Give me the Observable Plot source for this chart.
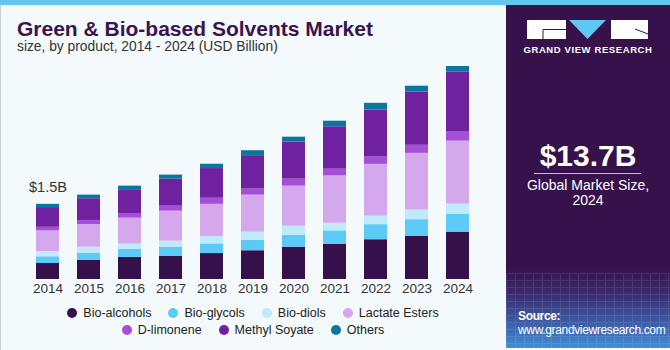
<!DOCTYPE html>
<html><head><meta charset="utf-8">
<script src="https://cdn.jsdelivr.net/npm/d3@7"></script>
<script src="https://cdn.jsdelivr.net/npm/@observablehq/plot@0.6"></script>
<style>
body{margin:0;background:#fff;}
#wrap{position:relative;width:670px;height:350px;overflow:hidden;background:#f4f9fc;font-family:"Liberation Sans",Arial,sans-serif;}
#topbar{position:absolute;left:0;top:0;width:670px;height:5px;background:#62c6ee;}
#leftedge{position:absolute;left:0;top:5px;width:1px;height:345px;background:#c9ccd0;}
#title{position:absolute;left:17px;top:18px;font-size:21px;line-height:1;font-weight:bold;color:#3a1450;white-space:nowrap;}
#subtitle{position:absolute;left:17px;top:40px;font-size:13.8px;line-height:1;color:#333;white-space:nowrap;}
#chart{position:absolute;left:0;top:0;}
#legend{position:absolute;left:0;top:304px;width:506px;font-size:12.5px;color:#222;}
.lrow{display:flex;justify-content:center;height:17px;align-items:center;}
.litem{display:flex;align-items:center;margin:0 8.5px;}
.ldot{width:10px;height:10px;border-radius:50%;margin-right:6px;}
#panel{position:absolute;left:506px;top:5px;width:164px;height:343px;color:#fff;
 background:linear-gradient(to bottom,#36114a 0%,#36114a 76%,#3b2a6e 84%,#3d5ea8 93%,#3f8fd4 100%);}
#grid{position:absolute;left:0;top:268px;width:164px;height:75px;opacity:0.09;
 background-image:linear-gradient(#fff 1px,transparent 1px),linear-gradient(90deg,#fff 1px,transparent 1px);background-size:9px 7px;}
#gvr{position:absolute;left:0;top:0;}
#gvrtext{position:absolute;left:0;width:164px;text-align:center;top:40px;font-size:9.5px;line-height:1;font-weight:bold;letter-spacing:0.6px;}
#big{position:absolute;left:0;width:164px;text-align:center;top:136px;font-size:30px;line-height:1;font-weight:bold;}
#rule{position:absolute;left:28px;top:168px;width:107px;height:1px;background:#c9bcd3;}
#cap{position:absolute;left:0;width:164px;text-align:center;top:173px;font-size:14px;line-height:15px;}
#src{position:absolute;left:12px;top:304px;font-size:12px;line-height:14px;letter-spacing:-0.35px;white-space:nowrap;}
</style></head><body>
<div id="wrap">
 <div id="topbar"></div>
 <div id="leftedge"></div>
 <div id="title">Green &amp; Bio-based Solvents Market</div>
 <div id="subtitle">size, by product, 2014 - 2024 (USD Billion)</div>
 <div id="chart"></div>
 <div id="legend"></div>
 <div id="panel">
  <div id="grid"></div>
  <svg id="gvr" width="164" height="60">
   <rect x="21" y="15" width="39" height="19" fill="#fff"/>
   <path d="M37,34 V24.5 H60" stroke="#36114a" stroke-width="1" fill="none"/>
   <polygon points="63,15 100,15 81.5,34" fill="#5ec8f3"/>
   <rect x="105" y="15" width="37" height="19" fill="#fff"/>
   <path d="M129,24 L142,29" stroke="#36114a" stroke-width="1" fill="none"/>
  </svg>
  <div id="gvrtext">GRAND VIEW RESEARCH</div>
  <div id="big">$13.7B</div>
  <div id="rule"></div>
  <div id="cap">Global Market Size,<br>2024</div>
  <div id="src"><b>Source:</b><br>www.grandviewresearch.com</div>
 </div>
</div>
<script>
const years = ["2014","2015","2016","2017","2018","2019","2020","2021","2022","2023","2024"];
const products = ["Bio-alcohols","Bio-glycols","Bio-diols","Lactate Esters","D-limonene","Methyl Soyate","Others"];
const colors = ["#36104a","#5ccaf6","#beeafa","#d5a7ec","#a54fd8","#70219f","#0b769e"];
const bioAlcohols  = [1.03,1.24,1.42,1.50,1.67,1.85,2.08,2.27,2.56,2.79,3.05];
const bioGlycols   = [0.43,0.45,0.52,0.58,0.62,0.68,0.77,0.86,0.97,1.06,1.16];
const bioDiols     = [0.34,0.39,0.34,0.39,0.47,0.52,0.58,0.49,0.55,0.62,0.64];
const lactateEsters= [1.33,1.46,1.67,1.93,2.08,2.38,2.58,3.05,3.33,3.65,4.06];
const dLimonene    = [0.23,0.26,0.30,0.32,0.39,0.39,0.45,0.43,0.47,0.52,0.58];
const methylSoyate = [1.27,1.40,1.53,1.74,1.91,2.15,2.38,2.73,3.03,3.43,3.85];
const others       = [0.21,0.23,0.23,0.26,0.28,0.32,0.32,0.36,0.43,0.37,0.37];
const firstLabel = "$1.5B";

const series = [bioAlcohols,bioGlycols,bioDiols,lactateEsters,dLimonene,methylSoyate,others];
const table = [];
series.forEach((vals,i)=>vals.forEach((v,j)=>table.push({year:years[j],product:products[i],value:v})));
const totals = years.map((y,j)=>({year:y,total:d3.sum(series,s=>s[j])}));
const maxTotal = d3.max(totals,d=>d.total);

const chart = Plot.plot({
  width:500,height:300,
  marginLeft:13,marginRight:7,marginTop:66,marginBottom:21,
  style:{background:"transparent",fontFamily:"Liberation Sans, Arial, sans-serif"},
  x:{type:"band",domain:years,padding:0.4286,axis:null},
  y:{domain:[0,maxTotal],axis:null},
  color:{domain:products,range:colors},
  marks:[
    Plot.barY(table,{x:"year",y:"value",fill:"product",order:null}),
    Plot.axisX({tickSize:0,tickPadding:4,fontSize:13.5,fill:"#333",label:null}),
    Plot.text(totals.slice(0,1),{x:"year",y:"total",text:()=>firstLabel,dy:-12,lineAnchor:"bottom",fontSize:14.5,fill:"#333"})
  ]
});
document.getElementById("chart").appendChild(chart);

const legend = document.getElementById("legend");
const rows = [products.slice(0,4),products.slice(4)];
rows.forEach(r=>{
  const row = document.createElement("div"); row.className="lrow";
  r.forEach(p=>{
    const it=document.createElement("div"); it.className="litem";
    const dot=document.createElement("span"); dot.className="ldot"; dot.style.background=colors[products.indexOf(p)];
    const t=document.createElement("span"); t.textContent=p;
    it.appendChild(dot); it.appendChild(t); row.appendChild(it);
  });
  legend.appendChild(row);
});
</script>
</body></html>
